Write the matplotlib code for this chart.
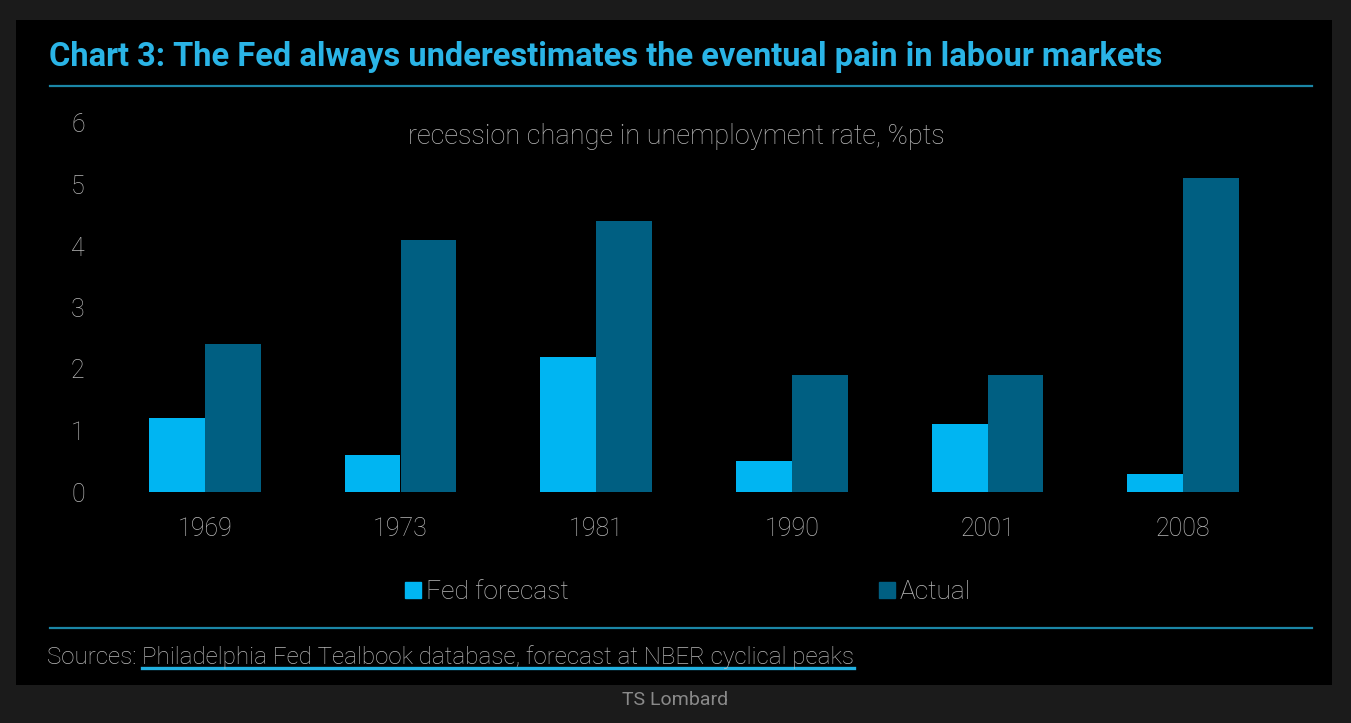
import numpy as np
import matplotlib.pyplot as plt
from matplotlib.patches import Rectangle
from matplotlib.lines import Line2D

# recession change in unemployment rate, %pts
years = ["1969", "1973", "1981", "1990", "2001", "2008"]
fed_forecast = [1.2, 0.6, 2.2, 0.5, 1.1, 0.3]
actual = [2.4, 4.1, 4.4, 1.9, 1.9, 5.1]

W, H = 1351, 723
fed_col = "#00b5f2"
act_col = "#005f82"
txt_col = "#b8b8b8"
line_col = "#1b86a6"

plt.rcParams['font.family'] = ['Roboto', 'DejaVu Sans']

fig = plt.figure(figsize=(W / 100, H / 100), dpi=100)
fig.patch.set_facecolor("#1b1b1b")

def px(x, y):
    # pixel coords (top-left origin) -> figure fraction
    return x / W, 1 - y / H

# black panel
x0, y0 = px(16, 685)
x1, y1 = px(1332, 20)
fig.patches.append(Rectangle((x0, y0), x1 - x0, y1 - y0, transform=fig.transFigure,
                             facecolor="black", edgecolor="none", zorder=-5))

# title + rules
tx, ty = px(49, 57)
fig.text(tx, ty, "Chart 3: The Fed always underestimates the eventual pain in labour markets",
         color="#2ab4e6", fontsize=23.5, fontweight="bold", va="center", ha="left")
for yy in (86, 628):
    a, b = px(50, yy)
    c, _ = px(1312, yy)
    fig.add_artist(Line2D([a, c], [b, b], color=line_col, lw=1.6, transform=fig.transFigure))

# axes
left, bottom = px(107, 492)
right, top = px(1281, 123)
ax = fig.add_axes([left, bottom, right - left, top - bottom])
ax.set_facecolor("black")
ax.set_zorder(2)

x = np.arange(len(years))
bw = 0.286
ax.bar(x - bw / 2, fed_forecast, bw, color=fed_col, label="Fed forecast")
ax.bar(x + bw / 2, actual, bw, color=act_col, label="Actual")

ax.set_xlim(-0.5, len(years) - 0.5)
ax.set_ylim(0, 6)
ax.set_yticks(range(0, 7))
ax.set_xticks(x)
ax.set_xticklabels(years)
for s in ax.spines.values():
    s.set_visible(False)
ax.tick_params(axis="both", length=0, colors=txt_col, labelsize=18)
ax.tick_params(axis="x", pad=18)
ax.tick_params(axis="y", pad=21)
for lab in ax.get_xticklabels() + ax.get_yticklabels():
    lab.set_fontweight("light")
for lab in ax.get_yticklabels():
    lab.set_horizontalalignment("center")

sx, sy = px(676, 137)
fig.text(sx, sy, "recession change in unemployment rate, %pts", color=txt_col,
         fontsize=19.5, fontweight="light", ha="center", va="center", zorder=3)

# legend
h1 = Line2D([], [], marker="s", ls="none", color=fed_col, markersize=12)
h2 = Line2D([], [], marker="s", ls="none", color=act_col, markersize=12)
lx, ly = px(686, 592)
leg = fig.legend([h1, h2], ["Fed forecast", "Actual"], loc="center", bbox_to_anchor=(lx, ly),
                 ncol=2, frameon=False, columnspacing=11.6, handletextpad=0.05,
                 handlelength=0.9, prop={"size": 19, "weight": "light"})
for t in leg.get_texts():
    t.set_color(txt_col)

# sources
qx, qy = px(47, 657)
t1 = fig.text(qx, qy, "Sources: ", color=txt_col, fontsize=17.4, fontweight="light",
              ha="left", va="center")
fig.canvas.draw()
r = fig.canvas.get_renderer()
bb = t1.get_window_extent(r).transformed(fig.transFigure.inverted())
t2 = fig.text(bb.x1, qy, "Philadelphia Fed Tealbook database, forecast at NBER cyclical peaks",
              color=txt_col, fontsize=17.4, fontweight="light", ha="left", va="center")
bb2 = t2.get_window_extent(r).transformed(fig.transFigure.inverted())
_, uy = px(0, 668)
fig.add_artist(Line2D([bb2.x0, bb2.x1], [uy, uy], color="#22b0e0", lw=2.4,
                      transform=fig.transFigure))

lx2, ly2 = px(675, 700)
fig.text(lx2, ly2, "TS Lombard", color="#8a8a8a", fontsize=14, ha="center", va="center")

fig.savefig("out.png", dpi=100, facecolor=fig.get_facecolor())
